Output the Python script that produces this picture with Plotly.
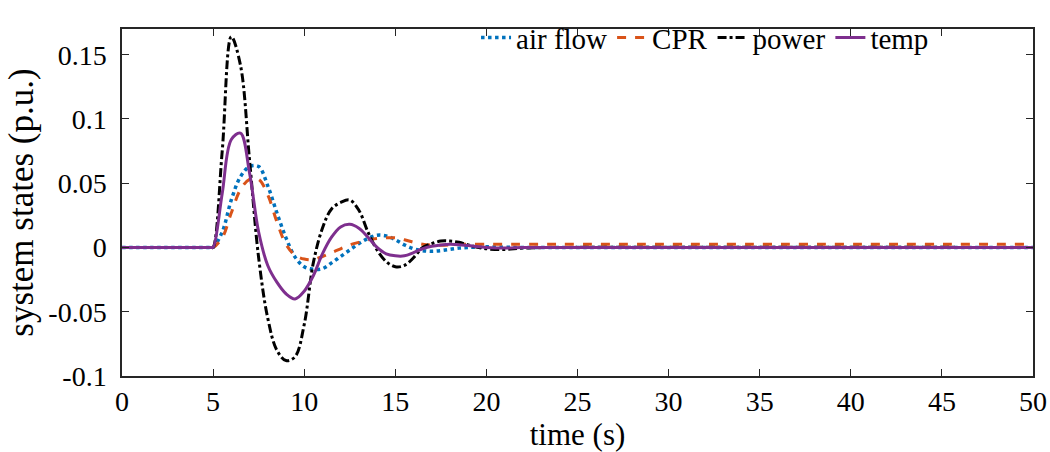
import plotly.graph_objects as go

# --------------------- DATA ---------------------

t_pts = [0, 4.5, 4.9, 5.0, 5.5, 6.0, 6.5, 7.0, 7.5, 8.0, 8.5, 9.0, 9.5, 10.0, 10.5,
         11.0, 11.5, 12.0, 12.5, 13.0, 13.5, 14.0, 14.5, 15.0, 15.5, 16.0, 16.5,
         17.0, 17.5, 18.0, 18.5, 19.0, 20.0, 21.0, 22.0, 24.0, 50.0]

air_flow = [0, 0, 0, 0, 0.012, 0.037, 0.055, 0.063, 0.063, 0.048, 0.027, 0.0075, -0.0075,
            -0.015, -0.017, -0.0165, -0.012, -0.007, -0.002, 0.003, 0.007, 0.0095, 0.009,
            0.006, 0.002, -0.001, -0.0025, -0.003, -0.0025, -0.0015, -0.0005, 0, 0.0005,
            0.0002, 0, 0, 0]

cpr = [0, 0, 0, 0, 0.0075, 0.027, 0.045, 0.053, 0.053, 0.041, 0.020, 0.0025, -0.006,
       -0.009, -0.0095, -0.007, -0.004, -0.001, 0.002, 0.004, 0.006, 0.007, 0.0075,
       0.0075, 0.006, 0.004, 0.0025, 0.0018, 0.0018, 0.002, 0.0023, 0.0025, 0.0025,
       0.0025, 0.0025, 0.0025, 0.0025]

power = [0, 0, 0, 0, 0.075, 0.164, 0.142, 0.068, -0.008, -0.055, -0.080, -0.088, -0.085,
         -0.060, -0.012, 0.015, 0.030, 0.035, 0.037, 0.029, 0.012, -0.002, -0.011,
         -0.015, -0.014, -0.008, 0.0, 0.003, 0.005, 0.005, 0.004, 0.002, -0.001,
         -0.0015, -0.0005, 0, 0]

temp = [0, 0, 0, 0, 0.042, 0.084, 0.089, 0.058, 0.012, -0.014, -0.027, -0.036, -0.040,
        -0.034, -0.022, -0.005, 0.008, 0.016, 0.018, 0.015, 0.008, 0.0, -0.005,
        -0.0065, -0.0065, -0.004, -0.001, 0.001, 0.002, 0.0025, 0.0022, 0.0015, 0.0,
        -0.0005, 0, 0, 0]

x_ticks = [0, 5, 10, 15, 20, 25, 30, 35, 40, 45, 50]
y_ticks = [-0.1, -0.05, 0, 0.05, 0.1, 0.15]
y_tick_text = ["-0.1", "-0.05", "0", "0.05", "0.1", "0.15"]

# --------------------- FIGURE ---------------------

font_name = "Liberation Serif, Times New Roman, serif"

fig = go.Figure()
fig.add_trace(go.Scatter(x=t_pts, y=air_flow, name="air flow", mode="lines",
                         line=dict(color="#0072BD", width=3.5, dash="dot", shape="spline")))
fig.add_trace(go.Scatter(x=t_pts, y=cpr, name="CPR", mode="lines",
                         line=dict(color="#D95319", width=3, dash="dash", shape="spline")))
fig.add_trace(go.Scatter(x=t_pts, y=power, name="power", mode="lines",
                         line=dict(color="#000000", width=3, dash="dashdot", shape="spline")))
fig.add_trace(go.Scatter(x=t_pts, y=temp, name="temp", mode="lines",
                         line=dict(color="#7E2F8E", width=3, shape="spline")))

axis_style = dict(showline=True, linecolor="#262626", linewidth=1.5, mirror="ticks",
                  ticks="inside", ticklen=7, tickwidth=1.2, tickcolor="#262626",
                  showgrid=False, zeroline=False, automargin=False,
                  tickfont=dict(family=font_name, size=28, color="#000"))

fig.update_layout(
    width=1050, height=452,
    margin=dict(l=122, r=17, t=12, b=76),
    paper_bgcolor="white", plot_bgcolor="white",
    font=dict(family=font_name, size=28, color="#000"),
    showlegend=True,
    legend=dict(orientation="h", x=0.64, y=0.975, xanchor="center", yanchor="middle",
                bgcolor="rgba(0,0,0,0)", font=dict(family=font_name, size=29),
                itemwidth=30, tracegroupgap=0),
    xaxis=dict(range=[0, 50], tickvals=x_ticks, ticklabelstandoff=0,
               title=dict(text="time (s)", font=dict(family=font_name, size=31), standoff=2),
               **axis_style),
    yaxis=dict(range=[-0.1, 0.17], tickvals=y_ticks, ticktext=y_tick_text, ticklabelstandoff=8,
               title=dict(text="system states (p.u.)", font=dict(family=font_name, size=35), standoff=4),
               **axis_style),
)

# drop the page margin so the 1050x452 figure sits at the window's corner
fig.write_html("out.html", config={"displayModeBar": False},
               post_script="document.body.style.margin='0';"
                           "document.documentElement.style.overflow='hidden';")
